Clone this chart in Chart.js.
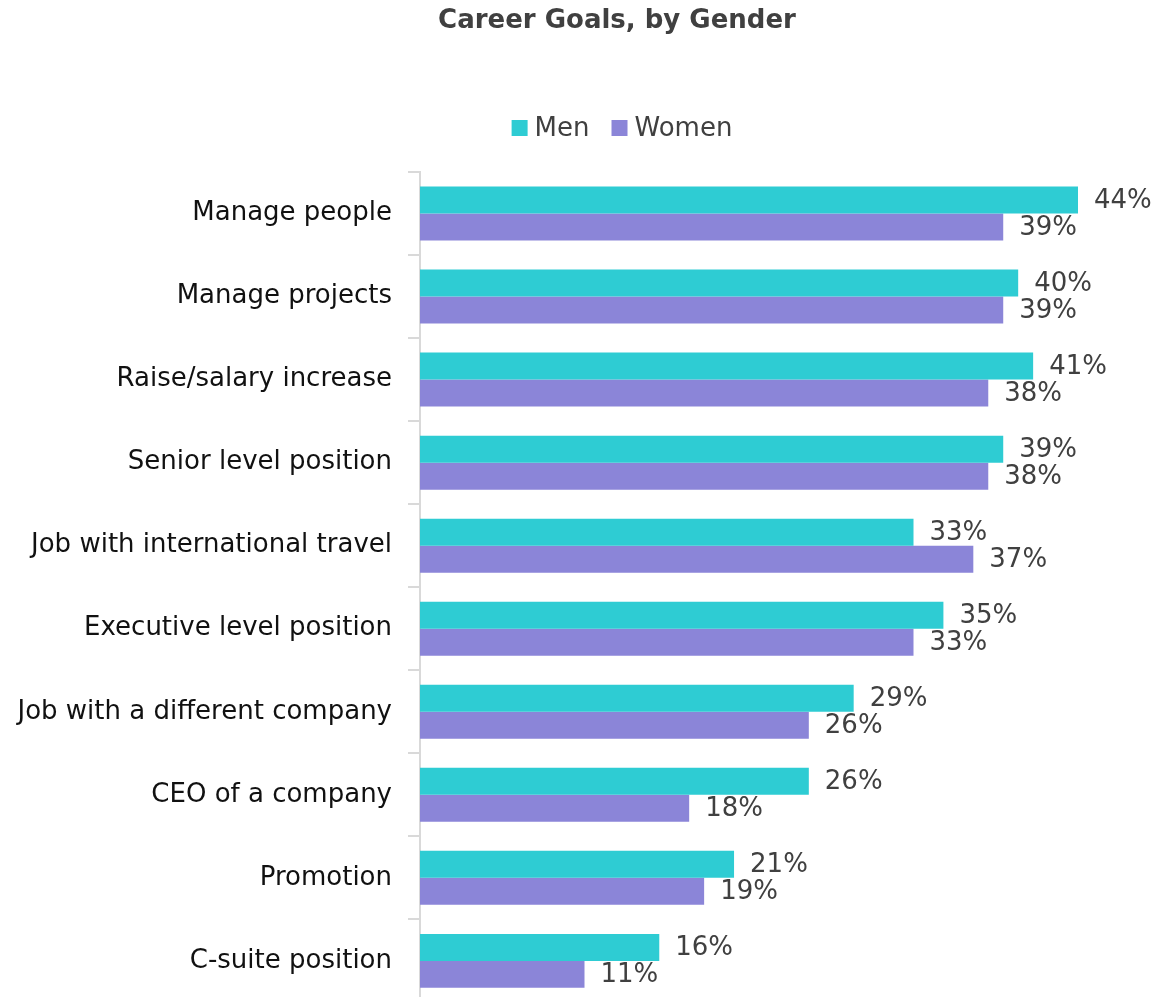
<!DOCTYPE html>
<html>
<head>
<meta charset="utf-8">
<title>Career Goals, by Gender</title>
<script src="https://cdn.jsdelivr.net/npm/chart.js@4/dist/chart.umd.min.js"></script>
<style>
  html, body { margin: 0; padding: 0; background: #fff; overflow: hidden; }
  #wrap { width: 1156px; height: 997px; overflow: hidden; }
  canvas { display: block; }
</style>
</head>
<body>
<div id="wrap"><canvas id="chart" width="1156" height="1034"></canvas></div>
<script>
const categories = [
  'Manage people',
  'Manage projects',
  'Raise/salary increase',
  'Senior level position',
  'Job with international travel',
  'Executive level position',
  'Job with a different company',
  'CEO of a company',
  'Promotion',
  'C-suite position'
];
const seriesNames = ['Men', 'Women'];
const menValues = [44, 40, 41, 39, 33, 35, 29, 26, 21, 16];
const womenValues = [39, 39, 38, 38, 37, 33, 26, 18, 19, 11];

const FONT = '"DejaVu Sans", Tahoma, Verdana, sans-serif';
const TEXT_GREY = '#404040';

// value labels at the end of each bar
const barLabels = {
  id: 'barLabels',
  afterDatasetsDraw(chart) {
    const ctx = chart.ctx;
    ctx.save();
    ctx.font = '26px ' + FONT;
    ctx.fillStyle = TEXT_GREY;
    ctx.textAlign = 'left';
    ctx.textBaseline = 'middle';
    chart.data.datasets.forEach((ds, i) => {
      chart.getDatasetMeta(i).data.forEach((bar, j) => {
        ctx.fillText(ds.data[j] + '%', bar.x + 16, bar.y + 1);
      });
    });
    ctx.restore();
  }
};

// title and legend, centred a little right of the canvas middle
const header = {
  id: 'header',
  afterDraw(chart) {
    const ctx = chart.ctx;
    ctx.save();
    ctx.fillStyle = TEXT_GREY;
    ctx.textAlign = 'center';
    ctx.textBaseline = 'middle';
    ctx.font = 'bold 26px ' + FONT;
    ctx.fillText('Career Goals, by Gender', 617, 21);

    ctx.font = '26px ' + FONT;
    const box = 16, gap = 7, between = 22;
    const widths = chart.data.datasets.map(ds => ctx.measureText(ds.label).width);
    let total = widths.reduce((s, w) => s + box + gap + w, 0) + between * (widths.length - 1);
    let x = 622 - total / 2;
    ctx.textAlign = 'left';
    chart.data.datasets.forEach((ds, i) => {
      ctx.fillStyle = ds.backgroundColor;
      ctx.fillRect(x, 120, box, box);
      ctx.fillStyle = TEXT_GREY;
      ctx.fillText(ds.label, x + box + gap, 129);
      x += box + gap + widths[i] + between;
    });
    ctx.restore();
  }
};

new Chart(document.getElementById('chart'), {
  type: 'bar',
  data: {
    labels: categories,
    datasets: [
      { label: seriesNames[0], data: menValues, backgroundColor: '#2ECCD3' },
      { label: seriesNames[1], data: womenValues, backgroundColor: '#8B85D8' }
    ]
  },
  options: {
    indexAxis: 'y',
    responsive: false,
    animation: false,
    categoryPercentage: 0.65,
    barPercentage: 1,
    layout: { padding: { top: 172, right: 78, bottom: 0, left: 0 } },
    plugins: {
      legend: { display: false },
      title: { display: false },
      tooltip: { enabled: false }
    },
    scales: {
      x: {
        display: false,
        min: 0,
        max: 44
      },
      y: {
        afterFit(scale) { scale.width = 420; },
        grid: {
          offset: true,
          drawOnChartArea: false,
          tickLength: 12,
          color: '#d9d9d9',
          lineWidth: 2
        },
        border: { color: '#d9d9d9', width: 2 },
        ticks: {
          color: '#111111',
          padding: 16,
          font: { family: FONT, size: 26 }
        }
      }
    }
  },
  plugins: [barLabels, header]
});
</script>
</body>
</html>
